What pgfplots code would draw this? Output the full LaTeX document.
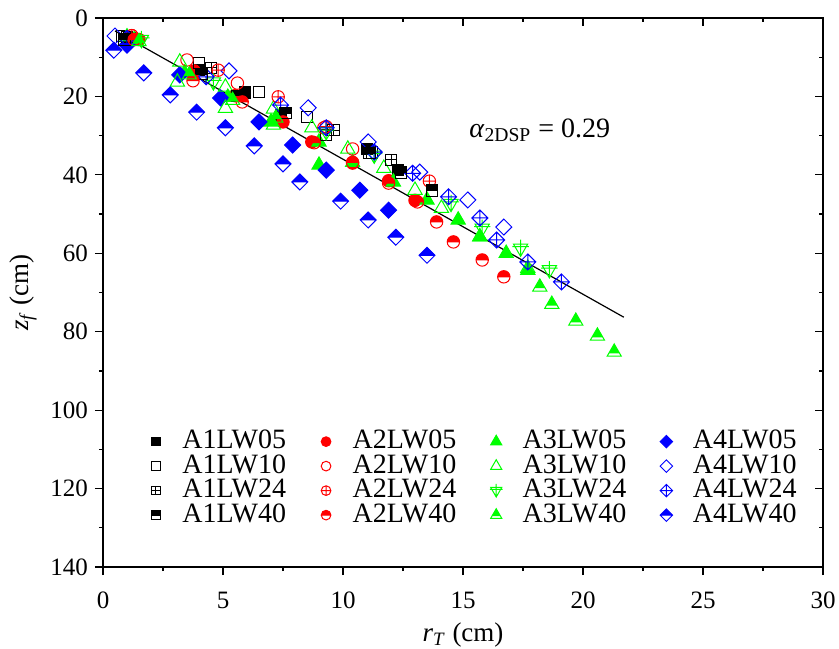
\documentclass[border=0pt]{standalone}
\usepackage{fontspec}
\setmainfont{Liberation Serif}
\usepackage{pgfplots}
\pgfplotsset{compat=1.18}
\usetikzlibrary{calc}
\definecolor{cG}{RGB}{0,255,0}
\definecolor{cB}{RGB}{0,0,255}
\definecolor{cR}{RGB}{255,0,0}
\newcommand\mks{1}
\newdimen\mr
% squares
\pgfdeclareplotmark{sqF}{\mr=\mks\pgfplotmarksize
 \pgfpathrectangle{\pgfqpoint{-\mr}{-\mr}}{\pgfqpoint{2\mr}{2\mr}}\pgfusepathqfillstroke}
\pgfdeclareplotmark{sqO}{\mr=\mks\pgfplotmarksize
 \pgfpathrectangle{\pgfqpoint{-\mr}{-\mr}}{\pgfqpoint{2\mr}{2\mr}}\pgfusepathqstroke}
\pgfdeclareplotmark{sqP}{\mr=\mks\pgfplotmarksize
 \pgfpathrectangle{\pgfqpoint{-\mr}{-\mr}}{\pgfqpoint{2\mr}{2\mr}}
 \pgfpathmoveto{\pgfqpoint{-\mr}{0pt}}\pgfpathlineto{\pgfqpoint{\mr}{0pt}}
 \pgfpathmoveto{\pgfqpoint{0pt}{-\mr}}\pgfpathlineto{\pgfqpoint{0pt}{\mr}}\pgfusepathqstroke}
\pgfdeclareplotmark{sqH}{\mr=\mks\pgfplotmarksize
 \pgfpathrectangle{\pgfqpoint{-\mr}{0pt}}{\pgfqpoint{2\mr}{\mr}}\pgfusepathqfill
 \pgfpathrectangle{\pgfqpoint{-\mr}{-\mr}}{\pgfqpoint{2\mr}{2\mr}}
 \pgfpathmoveto{\pgfqpoint{-\mr}{0pt}}\pgfpathlineto{\pgfqpoint{\mr}{0pt}}\pgfusepathqstroke}
% circles
\pgfdeclareplotmark{ciF}{\mr=\mks\pgfplotmarksize
 \pgfpathcircle{\pgfpointorigin}{\mr}\pgfusepathqfillstroke}
\pgfdeclareplotmark{ciO}{\mr=\mks\pgfplotmarksize
 \pgfpathcircle{\pgfpointorigin}{\mr}\pgfusepathqstroke}
\pgfdeclareplotmark{ciP}{\mr=\mks\pgfplotmarksize
 \pgfpathcircle{\pgfpointorigin}{\mr}
 \pgfpathmoveto{\pgfqpoint{-\mr}{0pt}}\pgfpathlineto{\pgfqpoint{\mr}{0pt}}
 \pgfpathmoveto{\pgfqpoint{0pt}{-\mr}}\pgfpathlineto{\pgfqpoint{0pt}{\mr}}\pgfusepathqstroke}
\pgfdeclareplotmark{ciH}{\mr=\mks\pgfplotmarksize
 \pgfpathmoveto{\pgfqpoint{\mr}{0pt}}\pgfpatharc{0}{180}{\mr}\pgfpathclose\pgfusepathqfill
 \pgfpathcircle{\pgfpointorigin}{\mr}
 \pgfpathmoveto{\pgfqpoint{-\mr}{0pt}}\pgfpathlineto{\pgfqpoint{\mr}{0pt}}\pgfusepathqstroke}
% triangles
\pgfdeclareplotmark{trF}{\mr=\mks\pgfplotmarksize
 \pgfpathmoveto{\pgfqpoint{0pt}{\mr}}\pgfpathlineto{\pgfqpoint{-0.866\mr}{-0.5\mr}}
 \pgfpathlineto{\pgfqpoint{0.866\mr}{-0.5\mr}}\pgfpathclose\pgfusepathqfillstroke}
\pgfdeclareplotmark{trO}{\mr=\mks\pgfplotmarksize
 \pgfpathmoveto{\pgfqpoint{0pt}{\mr}}\pgfpathlineto{\pgfqpoint{-0.866\mr}{-0.5\mr}}
 \pgfpathlineto{\pgfqpoint{0.866\mr}{-0.5\mr}}\pgfpathclose\pgfusepathqstroke}
\pgfdeclareplotmark{trP}{\mr=\mks\pgfplotmarksize
 \pgfpathmoveto{\pgfqpoint{0pt}{-\mr}}\pgfpathlineto{\pgfqpoint{-0.866\mr}{0.5\mr}}
 \pgfpathlineto{\pgfqpoint{0.866\mr}{0.5\mr}}\pgfpathclose
 \pgfpathmoveto{\pgfqpoint{-\mr}{0.2\mr}}\pgfpathlineto{\pgfqpoint{\mr}{0.2\mr}}
 \pgfpathmoveto{\pgfqpoint{0pt}{-\mr}}\pgfpathlineto{\pgfqpoint{0pt}{1.05\mr}}\pgfusepathqstroke}
\pgfdeclareplotmark{trH}{\mr=\mks\pgfplotmarksize
 \pgfpathmoveto{\pgfqpoint{0pt}{\mr}}\pgfpathlineto{\pgfqpoint{-0.664\mr}{-0.15\mr}}
 \pgfpathlineto{\pgfqpoint{0.664\mr}{-0.15\mr}}\pgfpathclose\pgfusepathqfill
 \pgfpathmoveto{\pgfqpoint{0pt}{\mr}}\pgfpathlineto{\pgfqpoint{-0.866\mr}{-0.5\mr}}
 \pgfpathlineto{\pgfqpoint{0.866\mr}{-0.5\mr}}\pgfpathclose\pgfusepathqstroke}
% diamonds
\pgfdeclareplotmark{diF}{\mr=\mks\pgfplotmarksize
 \pgfpathmoveto{\pgfqpoint{0pt}{\mr}}\pgfpathlineto{\pgfqpoint{\mr}{0pt}}
 \pgfpathlineto{\pgfqpoint{0pt}{-\mr}}\pgfpathlineto{\pgfqpoint{-\mr}{0pt}}\pgfpathclose\pgfusepathqfillstroke}
\pgfdeclareplotmark{diO}{\mr=\mks\pgfplotmarksize
 \pgfpathmoveto{\pgfqpoint{0pt}{\mr}}\pgfpathlineto{\pgfqpoint{\mr}{0pt}}
 \pgfpathlineto{\pgfqpoint{0pt}{-\mr}}\pgfpathlineto{\pgfqpoint{-\mr}{0pt}}\pgfpathclose\pgfusepathqstroke}
\pgfdeclareplotmark{diP}{\mr=\mks\pgfplotmarksize
 \pgfpathmoveto{\pgfqpoint{0pt}{\mr}}\pgfpathlineto{\pgfqpoint{\mr}{0pt}}
 \pgfpathlineto{\pgfqpoint{0pt}{-\mr}}\pgfpathlineto{\pgfqpoint{-\mr}{0pt}}\pgfpathclose
 \pgfpathmoveto{\pgfqpoint{-\mr}{0pt}}\pgfpathlineto{\pgfqpoint{\mr}{0pt}}
 \pgfpathmoveto{\pgfqpoint{0pt}{-\mr}}\pgfpathlineto{\pgfqpoint{0pt}{\mr}}\pgfusepathqstroke}
\pgfdeclareplotmark{diH}{\mr=\mks\pgfplotmarksize
 \pgfpathmoveto{\pgfqpoint{0pt}{\mr}}\pgfpathlineto{\pgfqpoint{\mr}{0pt}}
 \pgfpathlineto{\pgfqpoint{-\mr}{0pt}}\pgfpathclose\pgfusepathqfill
 \pgfpathmoveto{\pgfqpoint{0pt}{\mr}}\pgfpathlineto{\pgfqpoint{\mr}{0pt}}
 \pgfpathlineto{\pgfqpoint{0pt}{-\mr}}\pgfpathlineto{\pgfqpoint{-\mr}{0pt}}\pgfpathclose
 \pgfpathmoveto{\pgfqpoint{-\mr}{0pt}}\pgfpathlineto{\pgfqpoint{\mr}{0pt}}\pgfusepathqstroke}

\begin{document}
\begin{tikzpicture}
\pgfplotsset{
  base/.style={width=360pt, height=274.5pt, scale only axis,
    xmin=0, xmax=30, ymin=0, ymax=140, y dir=reverse,
    xtick={0,5,...,30}, ytick={0,20,...,140},
    minor x tick num=1, minor y tick num=1,
    major tick length=4pt, minor tick length=2pt,
    axis line style={line width=0.6pt}, every tick/.style={black, line width=0.6pt}},
  mS/.style={only marks, mark size=2.8pt, mark options={solid, line width=0.5pt}},
  mC/.style={only marks, mark size=3.1pt, mark options={solid, line width=0.5pt}},
  mT/.style={only marks, mark size=4.1pt, mark options={solid, line width=0.5pt}},
  mD/.style={only marks, mark size=4.0pt, mark options={solid, line width=0.5pt}},
}
\begin{axis}[base, name=main,
  tick align=outside, xtick pos=lower, ytick pos=lower,
  /pgf/number format/assume math mode=true,
  ticklabel style={font=\fontsize{12.5}{14}\selectfont},
  xticklabel style={yshift=-5pt},
  xlabel={\textit{r}\textsubscript{\textit{T}} (cm)},
  ylabel={\textit{z}\textsubscript{\textit{f}} (cm)},
  label style={font=\fontsize{13.5}{15}\selectfont},
  xlabel style={yshift=0pt},
  legend columns=4,
  legend cell align=left,
  legend image code/.code={\def\mks{0.78}\path (0cm,0cm) (0.75cm,0cm);\draw[#1] plot coordinates {(0.3cm,0cm)};},
  legend style={at={(axis cs:1.46,104.8)}, anchor=north west, draw=none, fill=none,
    inner sep=0pt, row sep=0pt,
    font=\fontsize{14}{16}\selectfont,
    nodes={inner sep=0.25pt, text height=9.5pt, text depth=2.25pt},
    /tikz/every even column/.append style={column sep=11pt}},
]
\addplot[black, line width=0.6pt, forget plot] coordinates {(0.5,3.3) (21.7,76.3)};

% row 1: LW05
\addplot[mS, black, mark=sqF] coordinates {(1.1,5.0) (4.0,13.3) (5.9,19.0) (7.4,24.8) (11.0,33.5) (12.3,38.8)};
\addlegendentry{A1LW05}
\addplot[mC, cR, mark=ciF] coordinates {(1.5,5.5) (3.8,13.5) (5.5,19.8) (7.5,26.5) (8.7,31.6) (10.4,37.0) (11.9,41.5) (13.0,46.5)};
\addlegendentry{A2LW05}
\addplot[mT, cG, mark=trF] coordinates {(1.3,5.5) (3.4,14.0) (5.2,20.2) (7.0,26.5) (9.0,31.6) (9.0,37.5) (10.4,36.8) (12.1,41.8) (13.5,46.4) (14.8,51.5) (15.7,55.8) (16.8,60.0) (17.7,64.3)};
\addlegendentry{A3LW05}
\addplot[mD, cB, mark=diF] coordinates {(1.0,6.9) (3.2,14.5) (4.9,20.4) (6.5,26.5) (7.9,32.4) (9.3,38.8) (10.7,43.9) (11.9,49.0)};
\addlegendentry{A4LW05}

% row 2: LW10
\addplot[mS, black, mark=sqO] coordinates {(0.8,4.5) (4.0,11.5) (6.5,18.8) (8.5,25.2) (9.3,29.8) (11.2,34.3)};
\addlegendentry{A1LW10}
\addplot[mC, cR, mark=ciO] coordinates {(1.2,4.5) (3.5,10.7) (5.6,16.6) (9.2,28.0) (10.4,33.4)};
\addlegendentry{A2LW10}
\addplot[mT, cG, mark=trO] coordinates {(1.0,4.8) (3.2,11.2) (3.1,16.3) (5.1,17.6) (5.1,23.0) (7.1,23.2) (7.1,27.3) (8.7,28.0) (10.2,33.4) (11.7,38.3) (13.0,43.9) (14.1,48.5) (15.7,55.8) (17.7,63.8)};
\addlegendentry{A3LW10}
\addplot[mD, cB, mark=diO] coordinates {(0.5,4.6) (5.25,13.5) (8.55,22.9) (11.05,31.6) (13.2,39.3) (15.2,46.4) (16.7,53.3)};
\addlegendentry{A4LW10}

% row 3: LW24
\addplot[mS, black, mark=sqP] coordinates {(1.0,4.8) (4.5,12.7) (9.6,28.6) (12.0,36.2)};
\addlegendentry{A1LW24}
\addplot[mC, cR, mark=ciP] coordinates {(1.2,4.5) (4.8,13.3) (7.3,20.1) (9.3,27.7) (13.6,41.6)};
\addlegendentry{A2LW24}
\addplot[mT, cG, mark=trP] coordinates {(1.6,5.5) (4.6,16.3) (9.3,29.0) (11.3,35.0) (14.5,47.3) (15.8,53.6) (17.4,58.7) (18.6,64.2)};
\addlegendentry{A3LW24}
\addplot[mD, cB, mark=diP] coordinates {(1.0,5.2) (4.3,15.0) (7.4,22.2) (9.3,28.0) (11.3,34.2) (12.9,39.6) (14.4,45.6) (15.7,51.0) (16.4,56.6) (17.7,62.2) (19.1,67.3)};
\addlegendentry{A4LW24}

% row 4: LW40
\addplot[mS, black, mark=sqH] coordinates {(0.9,5.5) (4.1,14.3) (5.6,19.8) (7.6,24.3) (11.1,34.5) (12.4,39.4) (13.7,44.0)};
\addlegendentry{A1LW40}
\addplot[mC, cR, mark=ciH] coordinates {(1.3,5.5) (3.75,16.0) (5.8,21.4) (8.8,31.8) (10.4,36.8) (11.9,42.1) (13.1,46.9) (13.9,52.0) (14.6,57.1) (15.8,61.7) (16.7,66.0)};
\addlegendentry{A2LW40}
\addplot[mT, cG, mark=trH] coordinates {(1.5,6.0) (3.6,14.5) (5.4,21.0) (7.2,25.5) (18.2,68.6) (18.7,73.0) (19.7,77.3) (20.6,81.1) (21.3,85.2)};
\addlegendentry{A3LW40}
\addplot[mD, cB, mark=diH] coordinates {(0.45,8.2) (1.7,14.0) (2.8,19.6) (3.9,24.0) (5.1,28.0) (6.3,32.6) (7.5,37.2) (8.2,41.8) (9.9,46.7) (11.05,51.5) (12.2,55.9) (13.5,60.5)};
\addlegendentry{A4LW40}

\node[font=\fontsize{14}{16}\selectfont] at (axis cs:18.2,28.6) {\textit{α}\textsubscript{2DSP} = 0.29};
\end{axis}
\begin{axis}[base, tick align=inside, xtick pos=upper, ytick pos=upper,
  xticklabels={}, yticklabels={}]
\end{axis}
\pgfresetboundingbox
\path ($(main.south west)+(-51.5pt,-40.5pt)$) rectangle ($(main.north east)+(8pt,9pt)$);
\end{tikzpicture}
\end{document}
